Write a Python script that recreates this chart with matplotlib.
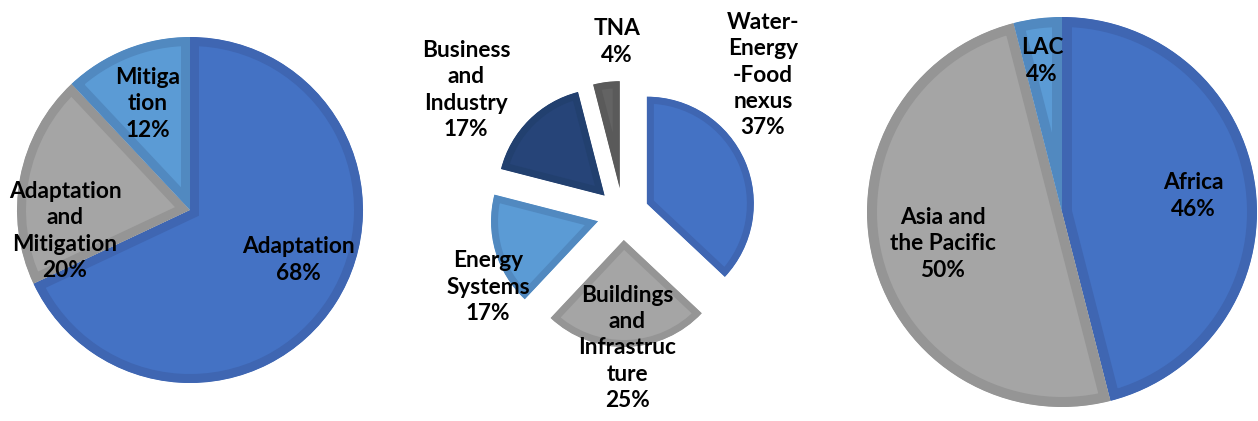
import matplotlib
matplotlib.use("Agg")
import matplotlib.pyplot as plt

# ---------------- data ----------------
focus_labels = ["Adaptation\n68%", "Adaptation\nand\nMitigation\n20%", "Mitiga\ntion\n12%"]
focus_values = [68, 20, 12]

sector_labels = ["Water-\nEnergy\n-Food\nnexus\n37%", "Buildings\nand\nInfrastruc\nture\n25%",
                 "Energy\nSystems\n17%", "Business\nand\nIndustry\n17%", "TNA\n4%"]
sector_values = [37, 25, 17, 17, 4]

region_labels = ["Africa\n46%", "Asia and\nthe Pacific\n50%", "LAC\n4%"]
region_values = [46, 50, 4]

# ---------------- style ----------------
BLUE, BLUE_E = "#4472C4", "#3F66B2"
GRAY, GRAY_E = "#A5A5A5", "#959595"
LBLUE, LBLUE_E = "#5B9BD5", "#5189C0"
NAVY, NAVY_E = "#264478", "#22406F"
DGRAY, DGRAY_E = "#636363", "#5A5A5A"

W, H = 1258, 421
fig = plt.figure(figsize=(W / 100, H / 100), dpi=100)
ax = fig.add_axes([0, 0, 1, 1])

FONT = dict(family="Lato", fontweight="bold", fontsize=16.3, ha="center", va="center",
            color="black", linespacing=1.3)


def draw_pie(values, center, radius, fills, edges, border_px, explode_px=0):
    explode = [explode_px] * len(values)
    wedges, _ = ax.pie(values, center=center, radius=radius, startangle=90, counterclock=False,
                       colors=fills, explode=explode, frame=True)
    for w, ec in zip(wedges, edges):
        w.set_edgecolor(ec)
        w.set_linewidth(border_px * 2 * 72 / 100)
        w.set_clip_on(True)
        w.set_clip_path(w)
    return wedges


draw_pie(focus_values, (190, 211), 173, [BLUE, GRAY, LBLUE], [BLUE_E, GRAY_E, LBLUE_E], 9)
draw_pie(sector_values, (623, 207), 107, [BLUE, GRAY, LBLUE, NAVY, DGRAY],
         [BLUE_E, GRAY_E, LBLUE_E, NAVY_E, DGRAY_E], 7, explode_px=26)
draw_pie(region_values, (1062, 209), 195, [BLUE, GRAY, LBLUE], [BLUE_E, GRAY_E, LBLUE_E], 10)

ax.set_xlim(0, W)
ax.set_ylim(0, H)
ax.set_aspect("equal")
ax.axis("off")

# label positions (pixel centres, y measured from top)
focus_pos = [(298, 260), (65, 231), (148, 104)]
sector_pos = [(763, 75), (627, 348), (488, 287), (466, 90), (617, 42)]
region_pos = [(1193, 196), (943, 244), (1042, 61)]

for labels, pos in [(focus_labels, focus_pos), (sector_labels, sector_pos), (region_labels, region_pos)]:
    for t, (x, y) in zip(labels, pos):
        ax.text(x, H - y, t, **FONT)

fig.savefig("out.png", dpi=100)
